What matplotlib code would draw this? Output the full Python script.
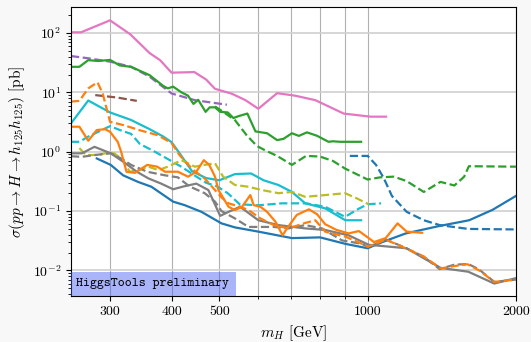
import numpy as np
import matplotlib
matplotlib.use('Agg')
import matplotlib.pyplot as plt
from matplotlib.ticker import NullFormatter
from matplotlib.patches import Rectangle

plt.rcParams['font.family'] = 'serif'
plt.rcParams['font.serif'] = ['cmr10']
plt.rcParams['mathtext.fontset'] = 'cm'
plt.rcParams['axes.formatter.use_mathtext'] = True

# limits, x = m_H [GeV], y = sigma [pb]
pink_x = [250, 262, 300, 330, 361, 379, 400, 445, 470, 490, 530, 565, 600, 655, 713, 783, 894, 1013, 1090]
pink_y = [103, 103, 164, 95, 46, 35, 21.5, 22, 16.5, 11.5, 9.5, 7.4, 5.3, 9.7, 8.8, 7.4, 4.4, 3.9, 3.9]

purple_x = [250, 271, 300, 331, 361, 400, 446, 518]
purple_y = [41, 37.6, 33, 27, 18.4, 9.6, 7.4, 6.2]

green_x = [250, 260, 271, 284, 300, 314, 331, 361, 385, 393, 403, 419, 432, 443, 453, 469, 478, 490,
           502, 520, 534, 548, 570, 592, 625, 655, 675, 702, 725, 753, 789, 833, 850, 880, 970]
green_y = [27, 27, 35, 33.8, 35.3, 28.5, 27, 19.5, 12.8, 11.7, 12.5, 10, 8.8, 6.4, 7.5, 4.7, 5.6, 5.6,
           4.7, 4.6, 3.7, 4.0, 4.4, 2.2, 2.05, 1.57, 1.65, 2.05, 1.85, 2.12, 1.86, 1.47, 1.5, 1.47, 1.47]

green_d_x = [490, 515, 538, 568, 596, 620, 655, 702, 750, 800, 850, 900, 1000, 1060, 1130, 1200, 1300,
             1405, 1500, 1570, 1605, 2000]
green_d_y = [5.8, 4.4, 3.4, 1.9, 1.25, 1.05, 0.85, 0.6, 0.85, 0.83, 0.7, 0.52, 0.34, 0.37, 0.38, 0.32, 0.21,
             0.31, 0.27, 0.38, 0.57, 0.56]

brown_x = [280, 310, 340]
brown_y = [9.0, 8.2, 7.2]

orange_d_x = [250, 260, 271, 283, 290, 300, 320, 345, 375, 400, 415, 443, 467, 505, 522, 551, 573, 606,
              645, 691, 747, 783, 820, 901, 974, 1000, 1038, 1088, 1176, 1302, 1407, 1498, 1594, 1684,
              1807, 2000]
orange_d_y = [7.0, 7.2, 11.7, 14.8, 9.5, 3.2, 2.8, 2.3, 1.9, 1.4, 0.88, 0.49, 0.355, 0.17, 0.135, 0.118,
              0.104, 0.075, 0.058, 0.051, 0.063, 0.07, 0.045, 0.037, 0.028, 0.025, 0.028, 0.033, 0.025,
              0.017, 0.0108, 0.0118, 0.0127, 0.01, 0.0064, 0.007]

orange_x = [250, 260, 271, 282, 293, 300, 311, 316, 324, 337, 357, 374, 388, 412, 432, 449, 465, 477,
            490, 498, 522, 538, 556, 578, 587, 606, 625, 650, 672, 686, 718, 760, 790, 820, 865, 915,
            960, 1005, 1030, 1088, 1150, 1200, 1290]
orange_y = [2.64, 2.64, 1.53, 2.32, 2.4, 2.17, 1.47, 1.0, 0.46, 0.44, 0.6, 0.56, 0.46, 0.46, 0.38, 0.46,
            0.72, 0.6, 0.38, 0.226, 0.118, 0.104, 0.118, 0.186, 0.126, 0.118, 0.097, 0.066, 0.039, 0.051,
            0.086, 0.107, 0.088, 0.06, 0.048, 0.042, 0.046, 0.035, 0.03, 0.035, 0.062, 0.045, 0.043]

cyan_x = [250, 271, 300, 331, 361, 385, 400, 415, 440, 470, 500, 538, 580, 615, 659, 702, 747, 820, 901, 970]
cyan_y = [3.0, 7.3, 4.6, 3.43, 2.4, 1.8, 1.45, 0.95, 0.47, 0.36, 0.33, 0.42, 0.43, 0.33, 0.275, 0.21,
          0.135, 0.111, 0.07, 0.07]

cyan_d_x = [250, 260, 271, 300, 315, 331, 345, 370, 388, 420, 445, 470, 495, 520, 550, 600, 670, 750,
            820, 900, 960, 1000, 1065]
cyan_d_y = [1.47, 1.47, 1.8, 2.7, 2.3, 2.0, 1.35, 1.0, 0.8, 0.55, 0.4, 0.3, 0.26, 0.2, 0.13, 0.125,
            0.135, 0.135, 0.118, 0.08, 0.11, 0.13, 0.135]

olive_x = [260, 268, 284, 293, 306, 319, 329, 342, 359, 376, 393, 419, 446, 467, 490, 509, 538, 573,
           610, 659, 702, 747, 820, 900, 950, 1005]
olive_y = [1.15, 0.88, 0.88, 0.94, 0.94, 0.72, 0.46, 0.49, 0.56, 0.49, 0.56, 0.72, 0.56, 0.6, 0.64,
           0.38, 0.275, 0.257, 0.226, 0.2, 0.21, 0.174, 0.186, 0.2, 0.164, 0.13]

gray_x = [250, 263, 279, 301, 319, 340, 359, 381, 403, 423, 449, 475, 502, 522, 551, 600, 659, 747,
          820, 915, 1005, 1200, 1300, 1407, 1600, 1807, 2000]
gray_y = [0.94, 0.94, 1.21, 0.94, 0.68, 0.46, 0.355, 0.29, 0.233, 0.26, 0.29, 0.226, 0.083, 0.097,
          0.118, 0.07, 0.058, 0.051, 0.048, 0.039, 0.027, 0.0236, 0.016, 0.011, 0.0095, 0.006, 0.0074]

gray_d_x = [250, 263, 279, 301, 316, 331, 357, 388, 412, 435, 467, 490, 505, 538, 573, 645, 691, 747,
            808, 887, 974, 1000, 1040, 1090, 1180, 1300, 1400, 1500, 1600, 1680, 1807, 2000]
gray_d_y = [0.84, 0.82, 0.88, 0.94, 0.77, 0.6, 0.46, 0.4, 0.37, 0.26, 0.2, 0.144, 0.1, 0.075, 0.054,
            0.054, 0.051, 0.058, 0.051, 0.032, 0.028, 0.025, 0.028, 0.033, 0.025, 0.017, 0.0105, 0.0125,
            0.0128, 0.0105, 0.0064, 0.007]

blue_x = [282, 301, 319, 342, 364, 403, 425, 460, 505, 538, 600, 702, 801, 901, 1000, 1071, 1195,
          1398, 1607, 1793, 2000]
blue_y = [0.77, 0.6, 0.4, 0.31, 0.257, 0.144, 0.126, 0.097, 0.062, 0.053, 0.045, 0.035, 0.036, 0.028,
          0.0236, 0.03, 0.042, 0.056, 0.07, 0.105, 0.18]

blue_d_x = [920, 1000, 1040, 1078, 1120, 1200, 1300, 1400, 1600, 2000]
blue_d_y = [0.85, 0.85, 0.6, 0.36, 0.18, 0.097, 0.07, 0.058, 0.05, 0.049]

xticks = [300, 400, 500, 1000, 2000]
xticks_minor = [600, 700, 800, 900]

fig = plt.figure(figsize=(5.31, 3.42), dpi=100, facecolor='#f8f8f8')
ax = fig.add_axes([0.1337, 0.1345, 0.838, 0.845])

lw = 1.6
ax.plot(pink_x, pink_y, color='tab:pink', lw=lw)
ax.plot(purple_x, purple_y, color='tab:purple', lw=lw, ls='--')
ax.plot(green_x, green_y, color='tab:green', lw=lw)
ax.plot(green_d_x, green_d_y, color='tab:green', lw=lw, ls='--')
ax.plot(brown_x, brown_y, color='tab:brown', lw=lw, ls='--')
ax.plot(cyan_x, cyan_y, color='tab:cyan', lw=lw)
ax.plot(cyan_d_x, cyan_d_y, color='tab:cyan', lw=lw, ls='--')
ax.plot(olive_x, olive_y, color='tab:olive', lw=lw, ls='--')
ax.plot(blue_x, blue_y, color='tab:blue', lw=lw)
ax.plot(blue_d_x, blue_d_y, color='tab:blue', lw=lw, ls='--')
ax.plot(gray_x, gray_y, color='tab:gray', lw=lw)
ax.plot(gray_d_x, gray_d_y, color='tab:gray', lw=lw, ls='--')
ax.plot(orange_x, orange_y, color='tab:orange', lw=lw)
ax.plot(orange_d_x, orange_d_y, color='tab:orange', lw=lw, ls='--')

ax.set_xscale('log')
ax.set_yscale('log')
ax.set_xlim(250, 2000)
ax.set_ylim(3.7e-3, 275)

ax.set_xticks(xticks)
ax.set_xticklabels([str(t) for t in xticks])
ax.set_xticks(xticks_minor, minor=True)
ax.xaxis.set_minor_formatter(NullFormatter())
ax.tick_params(labelsize=10)

ax.grid(True, which='both', axis='x', color='#b0b0b0', lw=0.8)
ax.grid(True, which='major', axis='y', color='#d0d0d0', lw=1.2)
ax.set_axisbelow(True)

ax.set_xlabel(r'$m_H$ [GeV]', fontsize=11)
ax.set_ylabel(r'$\sigma(pp \to H \to h_{125} h_{125})$ [pb]', fontsize=11)

ax.add_patch(Rectangle((0, 0), 0.371, 0.083, transform=ax.transAxes,
                       facecolor=(0.25, 0.35, 0.95, 0.45), edgecolor='none', zorder=3))
ax.text(0.011, 0.042, 'HiggsTools preliminary', transform=ax.transAxes,
        family='cmtt10', fontsize=9.5, va='center', ha='left', zorder=4)

fig.savefig('out.png', dpi=100, facecolor=fig.get_facecolor())
